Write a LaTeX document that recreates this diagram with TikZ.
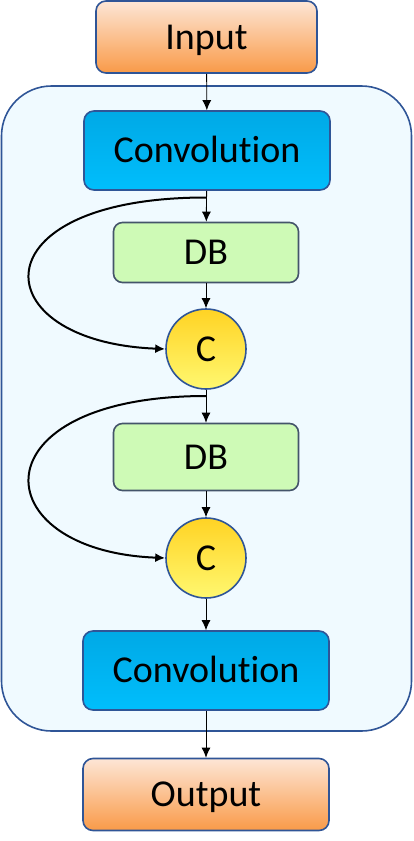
\documentclass[tikz,border=0pt]{standalone}
\usepackage{fontspec}
\setmainfont{Carlito}[Ligatures=NoCommon]
\usetikzlibrary{positioning,arrows.meta,calc}
\definecolor{edgeblue}{HTML}{2F5597}
\definecolor{edgegray}{HTML}{44546A}
\definecolor{iotop}{HTML}{FDE6D6}
\definecolor{iobot}{HTML}{F99A48}
\definecolor{convtop}{HTML}{00A9E6}
\definecolor{convbot}{HTML}{00BEFC}
\definecolor{dbgreen}{HTML}{CEFAB6}
\definecolor{cgold}{HTML}{FFD324}
\definecolor{clight}{HTML}{FFF870}
\definecolor{panel}{HTML}{F0FAFF}
\tikzset{io/.style={draw=edgeblue,line width=1.6pt,rounded corners=10pt,top color=iotop,bottom color=iobot,inner sep=0pt}}
\tikzset{conv/.style={draw=edgeblue,line width=1.6pt,rounded corners=10pt,top color=convtop,bottom color=convbot,minimum width=246pt,minimum height=79pt,inner sep=0pt}}
\tikzset{dblock/.style={draw=edgegray,line width=1.6pt,rounded corners=9pt,fill=dbgreen,minimum width=185pt,inner sep=0pt}}
\tikzset{concat/.style={circle,draw=edgeblue,line width=1.6pt,top color=cgold,bottom color=clight,minimum size=80pt,inner sep=0pt}}
\tikzset{container/.style={draw=edgeblue,line width=1.6pt,rounded corners=50pt,fill=panel,minimum width=410pt,minimum height=645pt,inner sep=0pt}}
\tikzset{link/.style={-{Latex[length=10pt,width=9pt]},line width=0.9pt}}
\tikzset{skipline/.style={-{Latex[length=10pt,width=9pt]},line width=2pt}}

\begin{document}
\begin{tikzpicture}[x=1pt,y=-1pt,font=\fontsize{38}{45}\selectfont,text height=24pt,text depth=0pt]

	\useasboundingbox (0,0) rectangle (413,841);

	%% Outer block
	\node[container] (block) at (206.5,408.5) {};

	%% Main column
	\node[io,minimum width=221pt,minimum height=72pt] (input) at (206.5,37) {Input};
	\node[conv] (conv1) at (207,150.5) {Convolution};
	\node[dblock,minimum height=60pt] (db1) at (206,252.5) {DB};
	\node[concat] (c1) at (206,349) {C};
	\node[dblock,minimum height=67pt] (db2) at (206,457) {DB};
	\node[concat] (c2) at (206,558) {C};
	\node[conv] (conv2) at (206,670.5) {Convolution};
	\node[io,minimum width=246pt,minimum height=72pt] (output) at (206,794.5) {Output};

	%% Forward arrows
	\draw[link] (input) -- (conv1);
	\draw[link] (conv1) -- (db1);
	\draw[link] (db1) -- (c1);
	\draw[link] (c1) -- (db2);
	\draw[link] (db2) -- (c2);
	\draw[link] (c2) -- (conv2);
	\draw[link] (conv2) -- (output);

	%% Skip connections
	\coordinate (s1) at (206,197.5);
	\coordinate (s2) at (206,396);
	\draw[skipline] (s1) .. controls +(-232,0) and +(-183,-7) .. (c1.west);
	\draw[skipline] (s2) .. controls +(-232,0) and +(-183,-7) .. (c2.west);

\end{tikzpicture}
\end{document}
